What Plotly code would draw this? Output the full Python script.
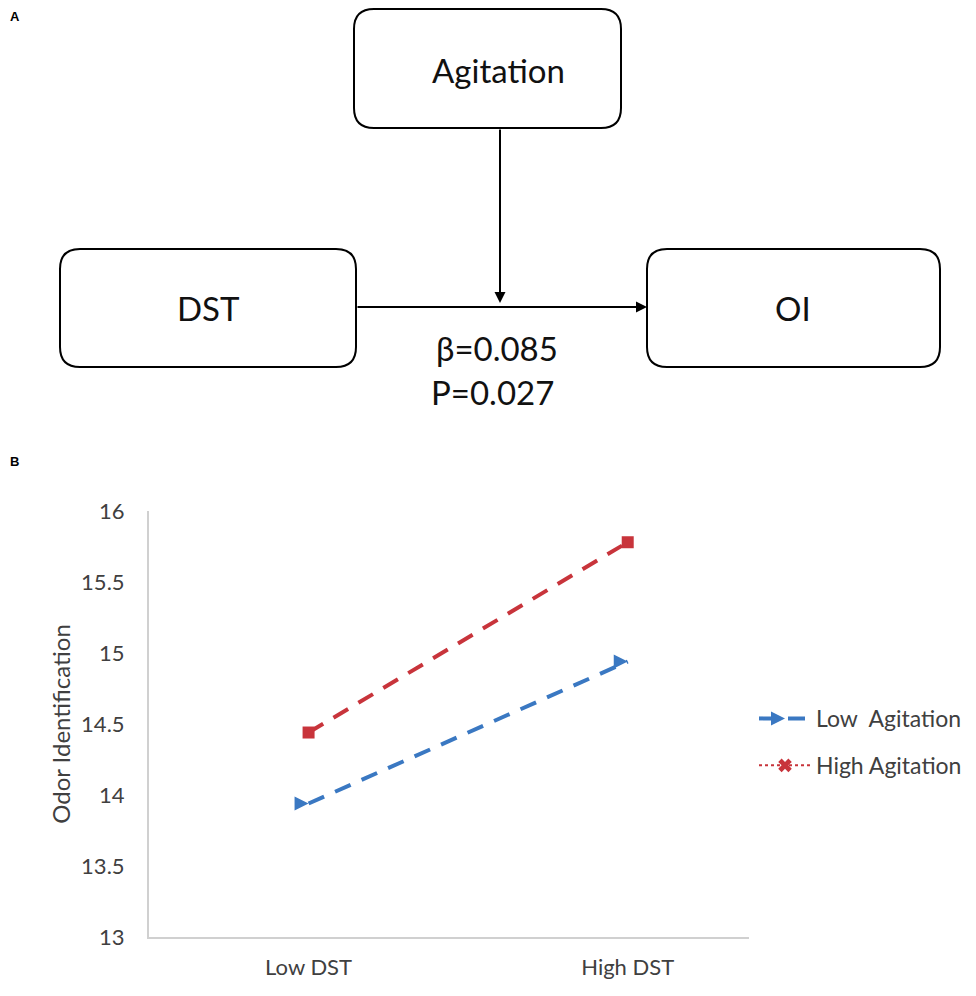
import plotly.graph_objects as go

# panel B data
dst_levels = ["Low DST", "High DST"]
low_agitation = [13.94, 14.94]
high_agitation = [14.44, 15.78]
y_ticks = [13, 13.5, 14, 14.5, 15, 15.5, 16]

# panel A text
beta_text = "β=0.085"
p_text = "P=0.027"

OFF = 8                      # page body margin of the viewer
FW, FH = 976 - 2 * OFF, 996 - 2 * OFF
L, R, T, B = 149, 749, 511, 937   # plot area in screen pixels

FONT = "Lato"
BLUE = "#3a78c2"
RED = "#c8343b"
AXIS_GREY = "#d0d0d0"
TXT = "#404040"


def px(x):
    return (x - L) / (R - L)


def py(y):
    return (B - y) / (B - T)


def rounded_box(x0, y0, x1, y1, r=20):
    # rounded rectangle path in paper units, from pixel corners
    rx = r / (R - L)
    ry = r / (B - T)
    a, b, c, d = px(x0), py(y0), px(x1), py(y1)
    return (
        f"M{a + rx},{b} L{c - rx},{b} Q{c},{b} {c},{b - ry} "
        f"L{c},{d + ry} Q{c},{d} {c - rx},{d} "
        f"L{a + rx},{d} Q{a},{d} {a},{d + ry} "
        f"L{a},{b - ry} Q{a},{b} {a + rx},{b} Z"
    )


def label(text, x, y, size=33, **kw):
    d = dict(text=text, x=px(x), y=py(y), xref="paper", yref="paper",
             xanchor="center", yanchor="middle", showarrow=False,
             font=dict(size=size, color="#111"))
    d.update(kw)
    return d


xs = list(range(len(dst_levels)))

fig = go.Figure()
fig.add_trace(go.Scatter(
    x=xs, y=low_agitation, mode="lines+markers", name="Low  Agitation",
    line=dict(color=BLUE, width=4, dash="17px,12px"),
    marker=dict(symbol="arrow-right", size=14, color=BLUE),
    legendgroup="low",
))
fig.add_trace(go.Scatter(
    x=xs, y=high_agitation, mode="lines+markers", name="High Agitation",
    line=dict(color=RED, width=4, dash="17px,12px"),
    marker=dict(symbol="square", size=12, color=RED),
    showlegend=False,
))
# legend entry for high agitation is drawn dotted in the original
fig.add_trace(go.Scatter(
    x=[None], y=[None], mode="lines+markers", name="High Agitation",
    line=dict(color=RED, width=2, dash="dot"),
    marker=dict(symbol="x", size=12, color=RED),
    legendgroup="high",
))

box_line = dict(color="black", width=2)
shapes = [
    dict(type="path", path=rounded_box(354, 9, 621, 128), xref="paper", yref="paper", line=box_line),
    dict(type="path", path=rounded_box(60, 249, 356, 367), xref="paper", yref="paper", line=box_line),
    dict(type="path", path=rounded_box(647, 249, 940, 367), xref="paper", yref="paper", line=box_line),
]

annotations = [
    label("Agitation", 498, 70),
    label("DST", 208, 308),
    label("OI", 793, 308),
    label(beta_text, 497, 348),
    label(p_text, 492, 392),
    label("<b>A</b>", 8, 17, size=13, xanchor="left",
          font=dict(size=13, color="black", family="Liberation Sans")),
    label("<b>B</b>", 8, 461, size=13, xanchor="left",
          font=dict(size=13, color="black", family="Liberation Sans")),
    # arrows
    dict(text="", x=px(647), y=py(307), xref="paper", yref="paper",
         ax=-(647 - 356), ay=0, showarrow=True, arrowhead=2, arrowsize=1.1,
         arrowwidth=2, arrowcolor="black"),
    dict(text="", x=px(500), y=py(303), xref="paper", yref="paper",
         ax=0, ay=-(303 - 128), showarrow=True, arrowhead=2, arrowsize=1.1,
         arrowwidth=2, arrowcolor="black"),
]

fig.update_layout(
    width=FW, height=FH,
    margin=dict(l=L - OFF, r=FW - (R - OFF), t=T - OFF, b=FH - (B - OFF), autoexpand=False),
    paper_bgcolor="white", plot_bgcolor="white",
    font=dict(family=FONT, size=22, color=TXT),
    shapes=shapes,
    annotations=annotations,
    legend=dict(x=px(754), y=py(697), xanchor="left", yanchor="top",
                traceorder="grouped", tracegroupgap=14, itemwidth=52,
                font=dict(size=23, color=TXT), bgcolor="rgba(0,0,0,0)"),
)
fig.update_xaxes(
    range=[-0.5, 1.38], tickvals=xs, ticktext=dst_levels, showgrid=False, zeroline=False,
    showline=True, linecolor=AXIS_GREY, linewidth=2, ticks="", ticklabelstandoff=10,
    tickfont=dict(size=22, color=TXT),
)
fig.update_yaxes(
    range=[13, 16], tickvals=y_ticks, ticktext=[f"{v:g}" for v in y_ticks],
    showgrid=False, zeroline=False,
    showline=True, linecolor=AXIS_GREY, linewidth=2, ticks="", ticklabelstandoff=18,
    tickfont=dict(size=22, color=TXT),
    title=dict(text="Odor Identification", standoff=4, font=dict(size=24, color=TXT)),
)

fig.write_html("out.html")
